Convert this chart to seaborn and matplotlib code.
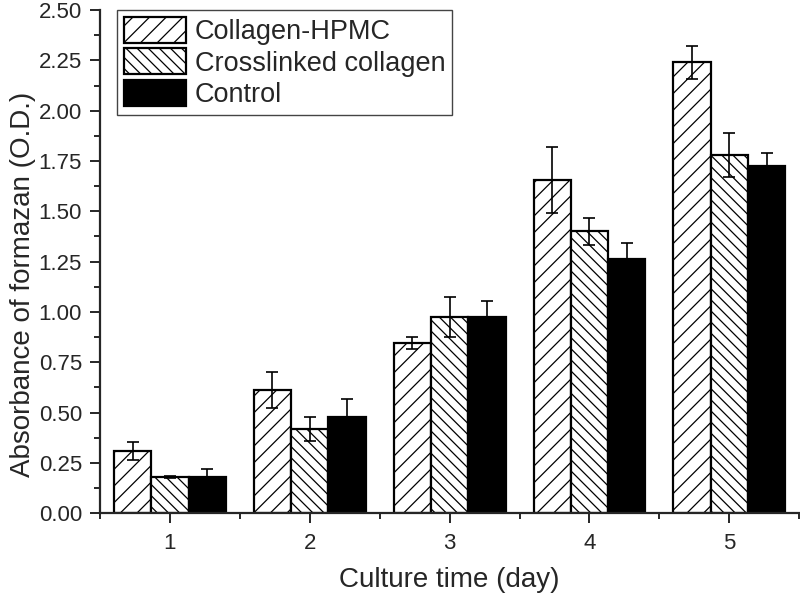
import numpy as np
import pandas as pd
import matplotlib
matplotlib.use("Agg")
import matplotlib.pyplot as plt
from matplotlib.ticker import MultipleLocator, FormatStrFormatter
import seaborn as sns

# data
days = ["1", "2", "3", "4", "5"]
groups = ["Collagen-HPMC", "Crosslinked collagen", "Control"]
hpmc = [0.31, 0.61, 0.845, 1.655, 2.24]
hpmc_err = [0.045, 0.09, 0.03, 0.165, 0.08]
crosslinked = [0.18, 0.42, 0.975, 1.40, 1.78]
crosslinked_err = [0.005, 0.06, 0.10, 0.065, 0.11]
control = [0.18, 0.48, 0.975, 1.265, 1.725]
control_err = [0.04, 0.085, 0.08, 0.08, 0.065]

hatches = ["//", "\\\\\\", ""]
colors = ["white", "white", "black"]

df = pd.DataFrame({
    "day": days * 3,
    "group": np.repeat(groups, len(days)),
    "value": hpmc + crosslinked + control,
    "err": hpmc_err + crosslinked_err + control_err,
})

sns.set_style("ticks")
plt.rcParams["font.family"] = ["Liberation Sans", "DejaVu Sans"]
plt.rcParams["hatch.linewidth"] = 0.9

fig, ax = plt.subplots(figsize=(8, 5.98), dpi=100)
fig.subplots_adjust(left=0.125, right=0.999, top=0.983, bottom=0.142)

sns.barplot(data=df, x="day", y="value", hue="group", hue_order=groups,
            palette=colors, edgecolor="black", linewidth=1.6,
            errorbar=None, legend=False, ax=ax)

# hatches + error bars per series
for cont, g, h in zip(ax.containers, groups, hatches):
    errs = df.loc[df.group == g, "err"].values
    vals = df.loc[df.group == g, "value"].values
    xs = []
    for p in cont.patches:
        p.set_hatch(h)
        xs.append(p.get_x() + p.get_width() / 2)
    ax.errorbar(xs, vals, yerr=errs, fmt="none", ecolor="black",
                elinewidth=1.2, capsize=4, capthick=1.2, zorder=5)

ax.legend(ax.containers, groups, loc="upper left",
          bbox_to_anchor=(0.024, 1.0), borderaxespad=0, fontsize=19.5,
          handlelength=2.3, handleheight=1.1, labelspacing=0.12,
          handletextpad=0.33, borderpad=0.25, fancybox=False,
          edgecolor="#444444", framealpha=1)
ax.get_legend().get_frame().set_linewidth(1.0)

ax.set_xlim(-0.5, 4.5)
ax.set_ylim(0, 2.5)
ax.yaxis.set_major_locator(MultipleLocator(0.25))
ax.yaxis.set_minor_locator(MultipleLocator(0.125))
ax.yaxis.set_major_formatter(FormatStrFormatter("%.2f"))
ax.xaxis.set_minor_locator(MultipleLocator(1.0, offset=0.5))
ax.tick_params(which="major", length=7, width=1.4, labelsize=16, direction="out")
ax.tick_params(which="minor", length=4, width=1.4, direction="out")
ax.tick_params(axis="x", pad=7)
ax.tick_params(axis="y", pad=6)

ax.set_xlabel("Culture time (day)", fontsize=20, labelpad=10)
ax.set_ylabel("Absorbance of formazan (O.D.)", fontsize=20, labelpad=2)
ax.yaxis.label.set_y(0.455)
for s in ["left", "bottom"]:
    ax.spines[s].set_linewidth(1.6)
sns.despine(ax=ax)

fig.savefig("out.png", dpi=100)
